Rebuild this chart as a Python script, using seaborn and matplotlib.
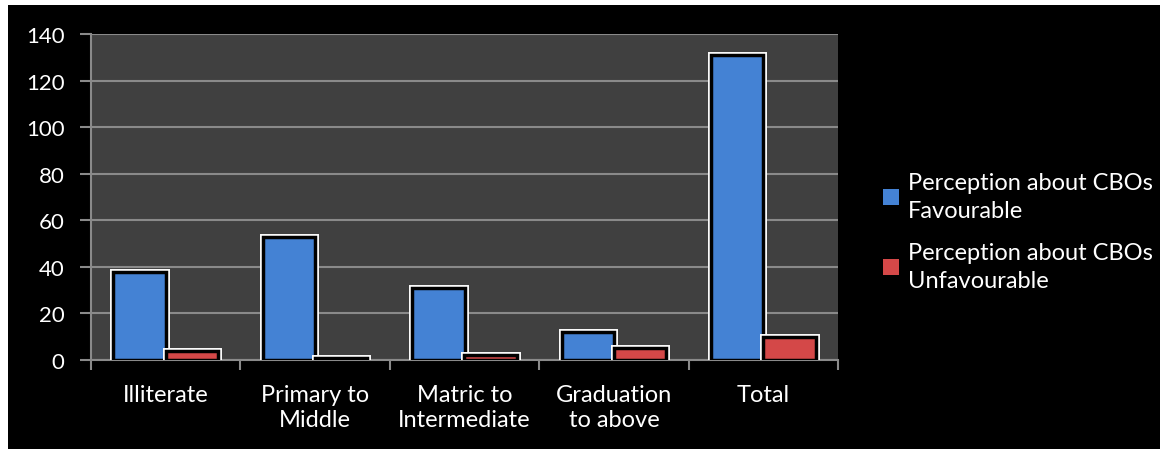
import matplotlib
matplotlib.use("Agg")
import matplotlib.pyplot as plt
import matplotlib.patheffects as pe
import seaborn as sns
import pandas as pd
import numpy as np

# Data
categories = ["Illiterate", "Primary to\nMiddle", "Matric to\nIntermediate", "Graduation\nto above", "Total"]
favourable = [38, 53, 31, 12, 131]
unfavourable = [4, 1, 2, 5, 10]
series_names = ["Perception about CBOs\nFavourable", "Perception about CBOs\nUnfavourable"]

df = pd.DataFrame({
    "category": categories * 2,
    "value": favourable + unfavourable,
    "series": [series_names[0]] * len(categories) + [series_names[1]] * len(categories),
})

sns.set_style("dark")
plt.rcParams["font.family"] = ["Lato", "DejaVu Sans"]

fig = plt.figure(figsize=(11.68, 4.56), dpi=100)
fig.patch.set_facecolor("white")
# black panel inside a thin white frame
bg = fig.add_axes([8 / 1168, 6 / 456, 1 - 16 / 1168, 1 - 12 / 456])
bg.set_facecolor("black")
bg.set_xticks([])
bg.set_yticks([])
for s in bg.spines.values():
    s.set_visible(False)

ax = fig.add_axes([91 / 1168, 1 - 361 / 456, (838 - 91) / 1168, (361 - 35) / 456])
ax.set_facecolor("#404040")

palette = {series_names[0]: "#4482d4", series_names[1]: "#d44848"}
sns.barplot(data=df, x="category", y="value", hue="series", palette=palette,
            width=0.7, ax=ax, edgecolor="black", linewidth=2.5, saturation=1)

for p in ax.patches:
    p.set_path_effects([pe.Stroke(linewidth=5, foreground="white"), pe.Normal()])
    p.set_zorder(3)

ax.set_ylim(0, 140)
ax.set_yticks(np.arange(0, 141, 20))
ax.set_xlim(-0.5, len(categories) - 0.5)
ax.grid(axis="y", color="#8a8a8a", linewidth=1.5, zorder=0)
ax.grid(axis="x", visible=False)
ax.set_axisbelow(True)
ax.set_xlabel("")
ax.set_ylabel("")

for side in ["top", "right"]:
    ax.spines[side].set_visible(False)
for side in ["left", "bottom"]:
    ax.spines[side].set_color("#8a8a8a")
    ax.spines[side].set_linewidth(1.5)

ax.tick_params(axis="y", colors="#8a8a8a", labelcolor="white", labelsize=16,
               length=8, width=1.5, left=True, direction="out", pad=11)
ax.tick_params(axis="x", which="major", length=0, labelcolor="white", labelsize=17, pad=17)
ax.set_xticks(np.arange(-0.5, len(categories)), minor=True)
ax.tick_params(axis="x", which="minor", length=7, width=1.5, colors="#8a8a8a", bottom=True)
for t in ax.get_xticklabels():
    t.set_linespacing(1.25)

handles, labels = ax.get_legend_handles_labels()
leg = ax.legend(handles, labels, loc="center left", bbox_to_anchor=(862 / 1168, 0.49),
                bbox_transform=fig.transFigure, frameon=False, fontsize=17,
                labelcolor="white", handlelength=0.65, handleheight=0.65,
                handletextpad=0.4, labelspacing=0.9)
for t in leg.get_texts():
    t.set_linespacing(1.4)
for h in leg.legend_handles:
    h.set_edgecolor("none")
    h.set_path_effects([])

fig.savefig("out.png", dpi=100, facecolor="white")
